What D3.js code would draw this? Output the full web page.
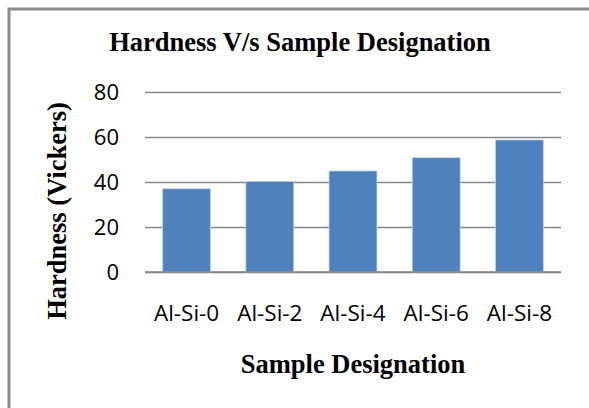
<!DOCTYPE html>
<html>
<head>
<meta charset="utf-8">
<script src="https://cdn.jsdelivr.net/npm/d3@7"></script>
<style>
  body { margin: 0; background: #fff; }
  .tick text { font-family: "Open Sans", sans-serif; fill: #000; }
  .title { font-family: "Liberation Serif", "Times New Roman", serif; font-weight: bold; }
</style>
</head>
<body>
<div id="graphic"></div>
<script>
// chart data
const samples = ['Al-Si-0', 'Al-Si-2', 'Al-Si-4', 'Al-Si-6', 'Al-Si-8'];
const hardness = [37, 40.3, 44.9, 50.8, 58.7];
const yTicks = [0, 20, 40, 60, 80];

const width = 589, height = 408;
const margin = { top: 92, right: 28, bottom: 136, left: 145 };
const plotW = width - margin.left - margin.right;
const plotH = height - margin.top - margin.bottom;

const svg = d3.select('#graphic').append('svg')
  .attr('width', width)
  .attr('height', height);

// outer frame (only top and left edges visible in the crop)
svg.append('path')
  .attr('d', 'M9,' + height + 'V9H' + width)
  .attr('fill', 'none')
  .attr('stroke', '#8c8c8c')
  .attr('stroke-width', 3);

const g = svg.append('g')
  .attr('transform', 'translate(' + margin.left + ',' + margin.top + ')');

const x = d3.scaleBand()
  .domain(samples)
  .range([0, plotW])
  .paddingInner(0.424)
  .paddingOuter(0.212);

const y = d3.scaleLinear()
  .domain([0, 80])
  .range([plotH, 0]);

// gridlines + y labels
const yAxis = g.append('g').attr('class', 'y axis')
  .call(d3.axisLeft(y).tickValues(yTicks).tickSize(-plotW).tickPadding(26));
yAxis.select('.domain').remove();
yAxis.selectAll('line').attr('stroke', '#868686').attr('stroke-width', 1.5);
yAxis.selectAll('text').style('font-size', '22px').attr('dy', '0.36em');

// bars
g.append('g').selectAll('rect')
  .data(hardness)
  .join('rect')
  .attr('x', (d, i) => x(samples[i]))
  .attr('y', d => y(d))
  .attr('width', x.bandwidth())
  .attr('height', d => y(0) - y(d))
  .attr('fill', '#4f81bd')
  .attr('stroke', '#c5d5ea')
  .attr('stroke-width', 0.8);

// baseline redrawn on top of bars
g.append('line')
  .attr('x1', 0).attr('x2', plotW)
  .attr('y1', y(0)).attr('y2', y(0))
  .attr('stroke', '#868686').attr('stroke-width', 1.5);

// x labels
const xAxis = g.append('g').attr('class', 'x axis')
  .attr('transform', 'translate(0,' + plotH + ')')
  .call(d3.axisBottom(x).tickSize(0).tickPadding(33));
xAxis.select('.domain').remove();
xAxis.selectAll('text').style('font-size', '22.5px');

// titles
svg.append('text').attr('class', 'title')
  .attr('x', 300).attr('y', 51)
  .attr('text-anchor', 'middle')
  .style('font-size', '26.5px')
  .text('Hardness V/s Sample Designation');

svg.append('text').attr('class', 'title')
  .attr('x', margin.left + plotW / 2).attr('y', 373)
  .attr('text-anchor', 'middle')
  .style('font-size', '26.5px')
  .text('Sample Designation');

svg.append('text').attr('class', 'title')
  .attr('transform', 'translate(66,211) rotate(-90)')
  .attr('text-anchor', 'middle')
  .style('font-size', '26.5px')
  .text('Hardness (Vickers)');
</script>
</body>
</html>
